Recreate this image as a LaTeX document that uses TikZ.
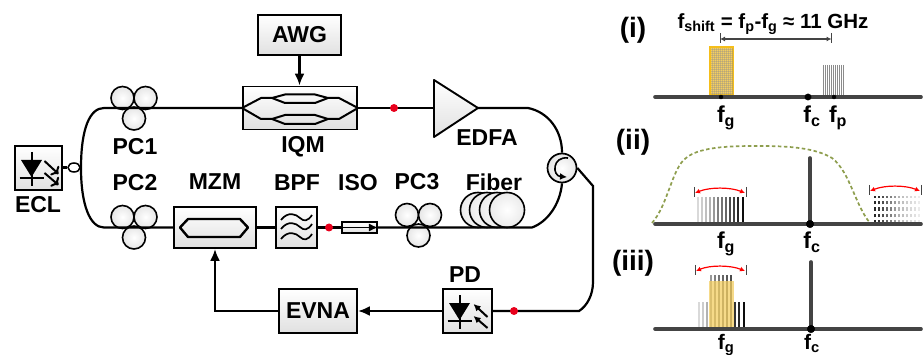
\documentclass[tikz,border=0pt]{standalone}
\usepackage{fontspec}
\setmainfont{Liberation Sans}
\usetikzlibrary{arrows.meta,calc,shapes.geometric}
\definecolor{specgray}{HTML}{444444}
\definecolor{goldfill}{HTML}{F3CE62}
\definecolor{goldline}{HTML}{F5BE1A}
\definecolor{olivedash}{HTML}{8E9E4E}
\definecolor{reddot}{HTML}{E8001C}
\def\lbl#1#2{#1\textsubscript{#2}}
% diode symbol in a box, #1 = centre, #2 = diode offset, #3 = arrow direction
\def\diodemark(#1)(#2)(#3){
	\begin{scope}[shift={(#1)}]
		\draw[line width=2pt] (#2, -16) -- (#2, 18);
		\fill (#2-10.5, -8) -- (#2+10.5, -8) -- (#2, 9) -- cycle;
		\draw[line width=2.2pt] (#2-12, 10) -- (#2+12, 10);
		\draw[line width=2pt, #3] (6, -7) -- (20, 6);
		\draw[line width=2pt, #3] (6, 5) -- (20, 17);
	\end{scope}
}
% three paddles of a polarization controller
\def\polctrl#1(#2,#3){
	\node[paddle] (#1a) at (#2-11.5, #3-10) {};
	\node[paddle] (#1b) at (#2+11.5, #3-10) {};
	\node[paddle] (#1c) at (#2, #3+10.5) {};
}
\tikzset{
	fiber/.style={line width=2.2pt},
	devbox/.style={draw, line width=1.9pt, top color=white, bottom color=black!12, inner sep=0pt},
	paddle/.style={draw, circle, line width=1.6pt, minimum size=23pt, inner sep=0pt, inner color=white, outer color=black!10},
	coil/.style={draw, circle, line width=1.6pt, minimum size=35pt, inner sep=0pt, inner color=white, outer color=black!8},
	probe/.style={circle, fill=reddot, minimum size=8pt, inner sep=0pt},
	lab/.style={font=\fontsize{23}{26}\selectfont\bfseries, inner sep=0pt},
	speclab/.style={lab, anchor=base},
	panel/.style={font=\fontsize{28}{30}\selectfont\bfseries, inner sep=0pt},
	axisbar/.style={line width=3.6pt, color=specgray, line cap=round},
	dimtick/.style={line width=1pt, color=specgray},
	bendred/.style={line width=1.2pt, color=red, {Latex[length=5pt,width=5pt]}-{Latex[length=5pt,width=5pt]}},
	sigtip/.style={-{Latex[length=12pt,width=10pt]}},
	smalltip/.style={{Latex[length=7pt,width=7pt]}-},
}
\begin{document}
\begin{tikzpicture}[x=1pt, y=-1pt]
	\useasboundingbox (0, 0) rectangle (923, 355);

	%%%%% SETUP %%%%%

	\node[devbox, minimum width=83pt, minimum height=40pt, lab] (awg) at (299.5, 35) {AWG};
	\node[devbox, minimum width=114pt, minimum height=43pt] (iqm) at (300, 108) {};
	\node[devbox, minimum width=47pt, minimum height=44pt] (ecl) at (38.5, 168) {};
	\node[devbox, minimum width=82pt, minimum height=41pt] (mzm) at (215, 227.5) {};
	\node[devbox, minimum width=41pt, minimum height=41pt] (bpf) at (296.5, 227.5) {};
	\node[devbox, minimum width=35pt, minimum height=11pt] (iso) at (359.5, 227.5) {};
	\node[devbox, minimum width=78pt, minimum height=44pt, lab] (evna) at (318, 311) {EVNA};
	\node[devbox, minimum width=49pt, minimum height=44pt] (pd) at (467.5, 311) {};

	\draw[devbox, line join=round] (434, 80) -- (478, 108) -- (434, 137) -- cycle;
	\coordinate (edfain) at (434, 108);
	\coordinate (edfaout) at (478, 108);

	\polctrl{pcone}(134, 108)
	\polctrl{pctwo}(134, 227)
	\polctrl{pcthree}(418.5, 225)

	\node[coil] (coila) at (478, 210) {};
	\node[coil] (coilb) at (487, 210) {};
	\node[coil] (coilc) at (497, 210) {};
	\node[coil] (coild) at (507, 210) {};

	\node[circle, draw, line width=1.7pt, minimum size=29pt, inner sep=0pt, inner color=white, outer color=black!10] (circ) at (562, 168) {};
	\node[draw, ellipse, line width=1.5pt, minimum width=12pt, minimum height=9pt, inner sep=0pt] (coupler) at (74, 167.5) {};

	\coordinate (topleft) at (104, 108);
	\coordinate (botleft) at (104, 227.5);
	\coordinate (midleft) at (81, 168);
	\coordinate (topright) at (528, 108);
	\coordinate (botright) at (532, 227.5);
	\coordinate (retop) at (593, 186);
	\coordinate (rebot) at (593, 282);
	\coordinate (recorner) at (579, 311);
	\coordinate (circtip) at (567, 177);

	\draw[fiber] (iqm.west) -- (topleft) .. controls (90, 108) and (81, 128) .. (midleft)
		.. controls (81, 205) and (90, 227.5) .. (botleft) -- (mzm.west);
	\draw[fiber] (ecl.east |- coupler) -- (coupler);
	\draw[fiber] (iqm.east) -- (edfain);
	\draw[fiber] (edfaout) -- (topright) .. controls (548, 112) and (562, 130) .. (circ.north);
	\draw[fiber] (mzm.east) -- (bpf.west);
	\draw[fiber] (bpf.east) -- (iso.west);
	\draw[fiber] (iso.east) -- (botright) .. controls (547, 222) and (560, 205) .. (circ.south);
	\draw[fiber] (circ.east) -- (retop) -- (rebot) .. controls (593, 295) and (587, 306) .. (recorner) -- (pd.east);
	\draw[fiber, sigtip] (awg.south) -- (iqm.north -| awg.south);
	\draw[fiber, sigtip] (pd.west) -- (evna.east);
	\draw[fiber, sigtip] (evna.west) -| (mzm.south);

	% inside of the circulator
	\draw[line width=1.6pt, -{Latex[length=7pt,width=7pt]}] (568, 158) .. controls (552, 156) and (552, 176) .. (circtip);

	% inside of the modulators
	\draw[line width=2pt, line join=round] (iqm.west) -- (261, 98) -- (272, 98) -- (285, 94.5) -- (315, 94.5) -- (328, 98) -- (339, 98) -- (iqm.east);
	\draw[line width=2pt, line join=round] (272, 98) -- (285, 103) -- (315, 103) -- (328, 98);
	\draw[line width=2pt, line join=round] (iqm.west) -- (261, 119) -- (272, 119) -- (285, 115) -- (315, 115) -- (328, 119) -- (339, 119) -- (iqm.east);
	\draw[line width=2pt, line join=round] (272, 119) -- (285, 124) -- (315, 124) -- (328, 119);
	\draw[line width=2.4pt, line join=round] (180, 227.5) -- (188, 219) -- (240, 219) -- (248, 227.5) -- (240, 237) -- (188, 237) -- cycle;
	\foreach \wy in {218, 227, 237} {
		\draw[line width=1.7pt] (281, \wy+2) .. controls (288, \wy-7) and (296, \wy-4) .. (300, \wy) .. controls (304, \wy+4) and (308, \wy+3) .. (312, \wy-3);
	}
	\draw[line width=1.4pt, -{Latex[length=9pt,width=8pt]}] (iso.west) -- (iso.east);
	\diodemark(ecl.center)(-7)(->)
	\diodemark(pd.center)(-8)(smalltip)

	\node[probe] (probea) at (394, 108) {};
	\node[probe] (probeb) at (329, 227.5) {};
	\node[probe] (probec) at (514, 311) {};

	\node[lab] (labpcone) at (135, 147) {PC1};
	\node[lab] (labiqm) at (303, 147) {IQM};
	\node[lab] (labedfa) at (487, 138) {EDFA};
	\node[lab] (labecl) at (38, 205) {ECL};
	\node[lab] (labpctwo) at (135, 183) {PC2};
	\node[lab] (labmzm) at (215, 182) {MZM};
	\node[lab] (labbpf) at (297, 183) {BPF};
	\node[lab] (labiso) at (358, 183) {ISO};
	\node[lab] (labpcthree) at (417, 182) {PC3};
	\node[lab] (labfiber) at (494, 182) {Fiber};
	\node[lab] (labpd) at (465, 275) {PD};

	%%%%% SPECTRA %%%%%

	% (i)
	\node[panel] (pi) at (633, 30) {(i)};
	\node[lab, font=\fontsize{20.5}{24}\selectfont\bfseries] (shift) at (773, 24) {\lbl{f}{shift} = \lbl{f}{p}-\lbl{f}{g} ≈ 11 GHz};
	\draw[fill=goldfill, draw=goldline, line width=1.2pt] (710, 47) rectangle (733, 95);
	\foreach \gx in {712, 714, ..., 732} { \draw[line width=0.4pt, color=black!45, opacity=0.35] (\gx, 48) -- (\gx, 95); }
	\foreach \gy in {49, 51, ..., 95} { \draw[line width=0.4pt, color=black!45, opacity=0.35] (710.5, \gy) -- (732.5, \gy); }
	\foreach \gx in {823, 825, ..., 844} { \draw[line width=1pt, color=black!45] (\gx, 65) -- (\gx, 96); }
	\draw[axisbar] (655, 97) -- (921, 97);
	\draw[fill=black] (721, 97) circle (2);
	\draw[fill=black] (808, 97) circle (3.2);
	\draw[fill=black] (834, 97) circle (2);
	\draw[dimtick] (720, 33) -- (720, 43);
	\draw[dimtick] (831.5, 33) -- (831.5, 43);
	\draw[line width=1.1pt, color=specgray, {Latex[length=5pt,width=5pt]}-{Latex[length=5pt,width=5pt]}] (720, 39) -- (831.5, 39);
	\node[speclab] (fgi) at (726, 123) {\lbl{f}{g}};
	\node[speclab] (fci) at (812, 123) {\lbl{f}{c}};
	\node[speclab] (fpi) at (838, 123) {\lbl{f}{p}};

	% (ii)
	\node[panel] (pii) at (633, 142) {(ii)};
	\draw[line width=1.7pt, color=olivedash, dash pattern=on 3.5pt off 2.5pt] (652, 223) .. controls (668, 205) and (672, 168) .. (686, 158)
		.. controls (700, 146) and (735, 146) .. (760, 146) .. controls (790, 146) and (815, 148) .. (832, 158)
		.. controls (850, 172) and (855, 205) .. (870, 223);
	\foreach \sx/\sc in {698/15, 702/20, 706/25, 710/30, 714/40, 718/50, 722/55, 726/60, 730/70, 734/75, 738/85, 743/95} {
		\draw[line width=1.3pt, color=black!\sc] (\sx, 197) -- (\sx, 224);
	}
	\foreach \sx/\sc in {875/85, 879/80, 883/70, 887/60, 891/50, 895/40, 899/30, 903/25, 907/20, 911/15, 915/12, 919/8} {
		\draw[line width=2.4pt, color=black!\sc, dash pattern=on 3.5pt off 3pt] (\sx, 224) -- (\sx, 196);
	}
	\draw[axisbar] (655, 224) -- (921, 224);
	\draw[axisbar] (810, 158) -- (810, 224);
	\draw[fill=black] (810, 224) circle (3.8);
	\draw[dimtick] (694, 187) -- (694, 197);
	\draw[dimtick] (746, 187) -- (746, 197);
	\draw[bendred] (695, 193) .. controls (710, 187) and (730, 187) .. (745, 193);
	\draw[dimtick] (869, 185) -- (869, 195);
	\draw[dimtick] (921, 185) -- (921, 195);
	\draw[bendred] (870, 191) .. controls (885, 185) and (905, 185) .. (920, 191);
	\node[speclab] (fgii) at (726, 249) {\lbl{f}{g}};
	\node[speclab] (fcii) at (812, 249) {\lbl{f}{c}};

	% (iii)
	\node[panel] (piii) at (633, 263) {(iii)};
	\foreach \sx/\sc in {699/15, 703/20, 707/30, 711/40, 715/50, 719/55, 723/60, 727/65, 731/70, 735/80, 739/85, 744/95} {
		\pgfmathsetmacro{\st}{(\sx>710 && \sx<733) ? 275 : 302}
		\draw[line width=1.3pt, color=black!\sc] (\sx, \st) -- (\sx, 329);
	}
	\fill[color=goldfill, opacity=0.75] (709, 281) rectangle (734, 329);
	\draw[axisbar] (655, 329) -- (921, 329);
	\draw[axisbar] (811, 262) -- (811, 329);
	\draw[fill=black] (811, 329) circle (3.8);
	\draw[dimtick] (695, 265) -- (695, 275);
	\draw[dimtick] (746, 265) -- (746, 275);
	\draw[bendred] (696, 271) .. controls (710, 265) and (730, 265) .. (745, 271);
	\node[speclab, font=\fontsize{21}{24}\selectfont\bfseries] (fgiii) at (726, 349) {\lbl{f}{g}};
	\node[speclab, font=\fontsize{21}{24}\selectfont\bfseries] (fciii) at (812, 349) {\lbl{f}{c}};
\end{tikzpicture}
\end{document}
